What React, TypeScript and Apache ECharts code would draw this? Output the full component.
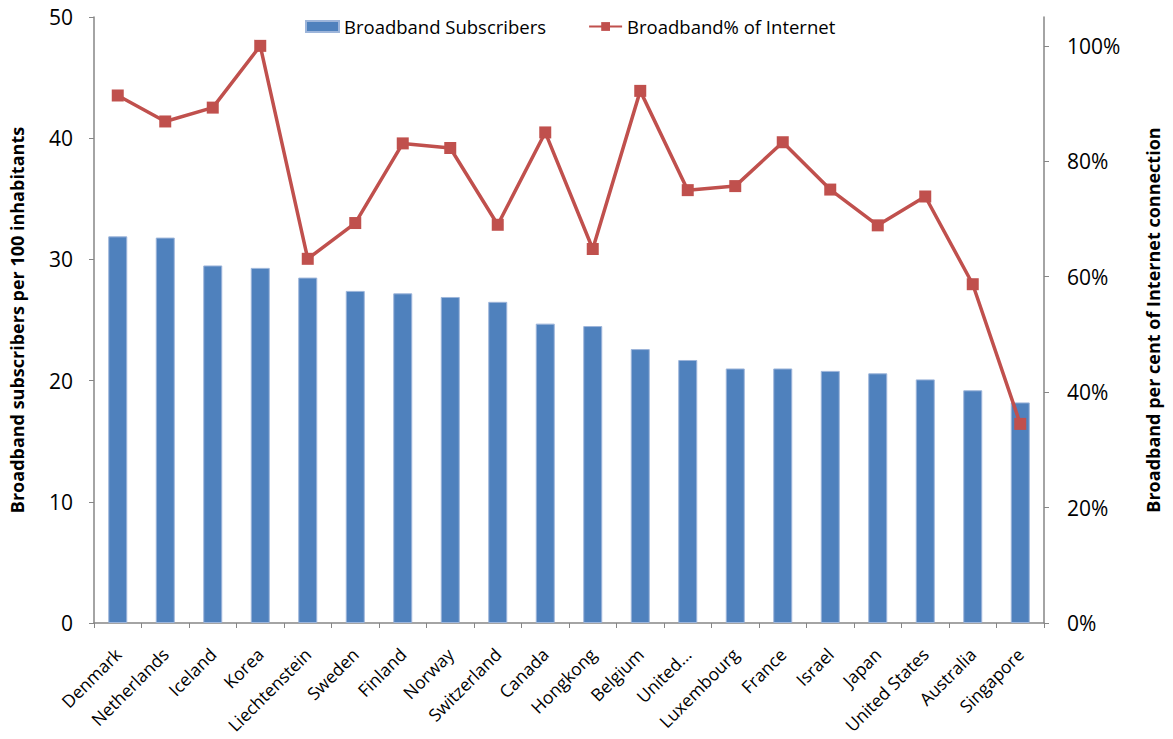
import React, { useEffect, useRef } from "react";
import * as echarts from "echarts";

const categories = [
  "Denmark", "Netherlands", "Iceland", "Korea", "Liechtenstein", "Sweden", "Finland",
  "Norway", "Switzerland", "Canada", "Hongkong", "Belgium", "United...", "Luxembourg",
  "France", "Israel", "Japan", "United States", "Australia", "Singapore",
];

const subscribers = [
  31.9, 31.8, 29.5, 29.3, 28.5, 27.4, 27.2, 26.9, 26.5, 24.7,
  24.5, 22.6, 21.7, 21.0, 21.0, 20.8, 20.6, 20.1, 19.2, 18.2,
];

const broadbandPct = [
  91.4, 86.9, 89.3, 100.0, 63.1, 69.3, 83.1, 82.3, 69.0, 85.0,
  64.8, 92.2, 75.0, 75.7, 83.3, 75.1, 68.9, 73.9, 58.7, 34.5,
];

const FONT = "Open Sans";

export default function App() {
  const ref = useRef<HTMLDivElement>(null);
  useEffect(() => {
    if (!ref.current) return;
    const chart = echarts.init(ref.current, null, { renderer: "svg" });
    const axisGray = "#868686";
    chart.setOption({
      animation: false,
      backgroundColor: "#ffffff",
      textStyle: { fontFamily: FONT },
      legend: {
        top: 12,
        left: 300,
        itemGap: 42,
        itemWidth: 33,
        itemHeight: 11,
        textStyle: { fontSize: 18.5, color: "#000", fontFamily: FONT },
        data: [
          { name: "Broadband Subscribers", icon: "rect" },
          { name: "Broadband% of Internet" },
        ],
      },
      grid: {
        left: 94,
        right: 129,
        top: 17,
        bottom: 116,
        containLabel: false,
        outerBoundsMode: "none",
      },
      xAxis: {
        type: "category",
        data: categories,
        boundaryGap: true,
        axisLine: { lineStyle: { color: axisGray, width: 1.5 } },
        axisTick: { show: true, length: 5, lineStyle: { color: axisGray }, alignWithLabel: false },
        axisLabel: {
          interval: 0,
          rotate: 45,
          fontSize: 17.5,
          color: "#000",
          fontFamily: FONT,
          margin: 28,
        },
      },
      yAxis: [
        {
          type: "value",
          min: 0,
          max: 50,
          interval: 10,
          position: "left",
          name: "Broadband subscribers per 100 inhabitants",
          nameLocation: "middle",
          nameGap: 68,
          nameTextStyle: { fontSize: 18, fontWeight: "bold", color: "#000", fontFamily: FONT },
          axisLine: { show: true, lineStyle: { color: axisGray, width: 1.5 } },
          axisTick: { show: true, length: 5, lineStyle: { color: axisGray } },
          axisLabel: { fontSize: 21, color: "#000", margin: 21, fontFamily: FONT },
          splitLine: { show: false },
        },
        {
          type: "value",
          min: 0,
          max: 105,
          interval: 20,
          position: "right",
          name: "Broadband per cent of Internet connection",
          nameLocation: "middle",
          nameGap: 100,
          nameRotate: 90,
          nameTextStyle: { fontSize: 18, fontWeight: "bold", color: "#000", fontFamily: FONT },
          axisLine: { show: true, lineStyle: { color: axisGray, width: 1.5 } },
          axisTick: { show: true, length: 5, lineStyle: { color: axisGray } },
          axisLabel: {
            fontSize: 21,
            color: "#000",
            margin: 23,
            formatter: "{value}%",
            fontFamily: FONT,
            showMaxLabel: false,
          },
          splitLine: { show: false },
        },
      ],
      series: [
        {
          name: "Broadband Subscribers",
          type: "bar",
          data: subscribers,
          barWidth: 19,
          itemStyle: { color: "#4F81BD", borderColor: "#9DB5DA", borderWidth: 1 },
          yAxisIndex: 0,
        },
        {
          name: "Broadband% of Internet",
          type: "line",
          data: broadbandPct,
          yAxisIndex: 1,
          symbol: "rect",
          symbolSize: 12,
          lineStyle: { color: "#C0504D", width: 3.5 },
          itemStyle: { color: "#C0504D" },
        },
      ],
    });
    return () => chart.dispose();
  }, []);
  return (
    <div
      ref={ref}
      style={{ position: "fixed", left: 0, top: 0, width: 1173, height: 739, background: "#fff" }}
    />
  );
}
